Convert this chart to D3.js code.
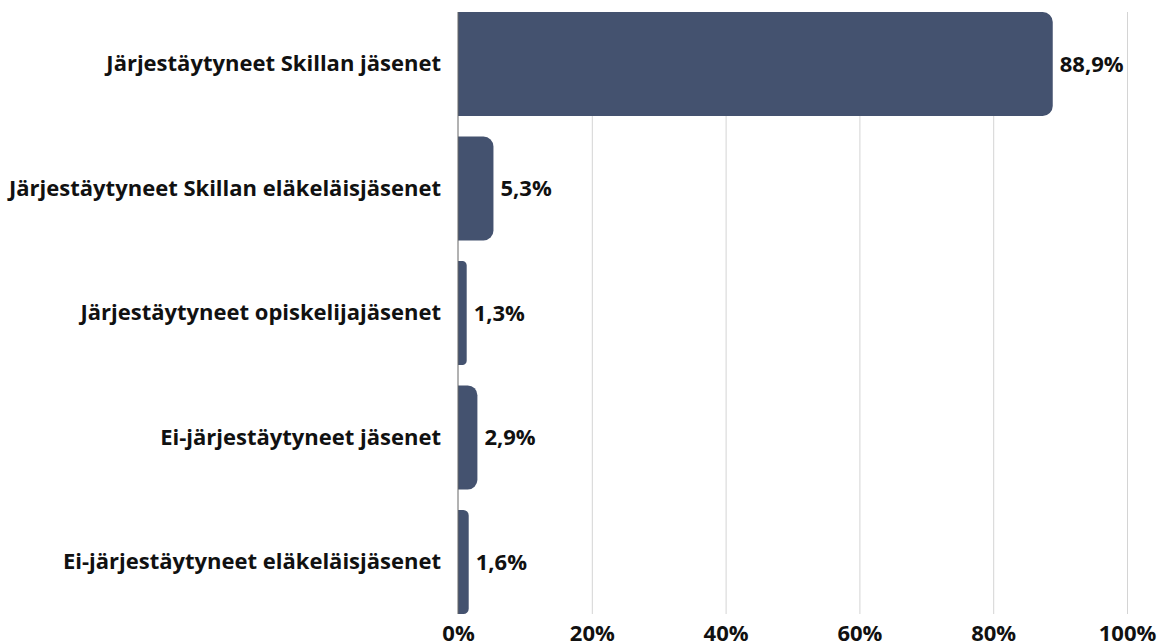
<!DOCTYPE html>
<html>
<head>
<meta charset="utf-8">
<script src="https://cdn.jsdelivr.net/npm/d3@7"></script>
<style>
  body { margin: 0; background: #fff; }
  text { font-family: "Open Sans", sans-serif; font-weight: 700; fill: #111; }
</style>
</head>
<body>
<svg id="chart"></svg>
<script>
const categories = [
    'Järjestäytyneet Skillan jäsenet',
    'Järjestäytyneet Skillan eläkeläisjäsenet',
    'Järjestäytyneet opiskelijajäsenet',
    'Ei-järjestäytyneet jäsenet',
    'Ei-järjestäytyneet eläkeläisjäsenet'
];
const values = [88.9, 5.3, 1.3, 2.9, 1.6];
const tickValues = [0, 20, 40, 60, 80, 100];

const width = 1161;
const height = 644;
const margin = { top: 12, right: 34, bottom: 30, left: 458 };

const svg = d3.select('#chart')
    .attr('width', width)
    .attr('height', height);

const xScale = d3.scaleLinear()
    .domain([0, 100])
    .range([margin.left, width - margin.right]);

const yScale = d3.scaleBand()
    .domain(categories)
    .range([margin.top, height - margin.bottom])
    .paddingInner(0.165)
    .paddingOuter(0);

// grid lines
const xGrid = d3.axisBottom(xScale)
    .tickValues(tickValues.slice(1))
    .tickSize(-(height - margin.bottom - margin.top))
    .tickFormat('');

svg.append('g')
    .attr('class', 'grid')
    .attr('transform', `translate(0, ${height - margin.bottom})`)
    .call(xGrid)
    .call(g => g.select('.domain').remove())
    .call(g => g.selectAll('line').attr('stroke', '#d4d4d4').attr('stroke-width', 1));

// bars with rounded right ends
function barPath(d, i) {
    const x0 = xScale(0);
    const x1 = xScale(d);
    const y0 = yScale(categories[i]);
    const h = yScale.bandwidth();
    const r = Math.min(10, (x1 - x0) / 2);
    return `M${x0},${y0}H${x1 - r}A${r},${r} 0 0 1 ${x1},${y0 + r}` +
        `V${y0 + h - r}A${r},${r} 0 0 1 ${x1 - r},${y0 + h}H${x0}Z`;
}

svg.append('g')
    .selectAll('path')
    .data(values)
    .join('path')
    .attr('d', barPath)
    .attr('fill', '#44526f');

// left axis line
svg.append('line')
    .attr('x1', xScale(0))
    .attr('x2', xScale(0))
    .attr('y1', margin.top)
    .attr('y2', height - margin.bottom)
    .attr('stroke', '#666')
    .attr('stroke-width', 1);

// value labels
svg.append('g')
    .selectAll('text')
    .data(values)
    .join('text')
    .attr('x', d => xScale(d) + 7)
    .attr('y', (d, i) => yScale(categories[i]) + yScale.bandwidth() / 2)
    .attr('dy', '0.35em')
    .attr('font-size', '22px')
    .text(d => d.toFixed(1).replace('.', ',') + '%');

// category labels
const yAxis = d3.axisLeft(yScale).tickSize(0).tickPadding(17);
svg.append('g')
    .attr('transform', `translate(${margin.left}, 0)`)
    .call(yAxis)
    .call(g => g.select('.domain').remove())
    .call(g => g.selectAll('text').attr('font-size', '22px').attr('font-family', null).style('fill', '#111'));

// x tick labels
const xAxis = d3.axisBottom(xScale)
    .tickValues(tickValues)
    .tickSize(0)
    .tickPadding(11)
    .tickFormat(d => d + '%');
svg.append('g')
    .attr('transform', `translate(0, ${height - margin.bottom})`)
    .call(xAxis)
    .call(g => g.select('.domain').remove())
    .call(g => g.selectAll('text').attr('font-size', '22px').attr('font-family', null).style('fill', '#111'));
</script>
</body>
</html>
